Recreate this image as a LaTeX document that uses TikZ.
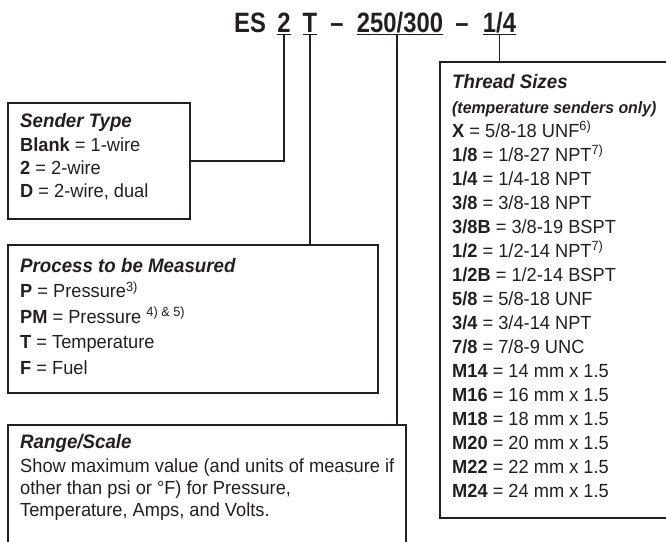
\documentclass[tikz,border=0pt]{standalone}
\usepackage{fontspec}
\setmainfont{Liberation Sans}
\newfontfamily\titlefont[FakeStretch=0.85]{Liberation Sans}
\newfontfamily\bodyfont[FakeStretch=0.96]{Liberation Sans}
\definecolor{ink}{RGB}{35,31,32}
\begin{document}
\begin{tikzpicture}[x=1pt,y=-1pt,
  titletxt/.style={font=\titlefont\bfseries\fontsize{28}{30}\selectfont, inner sep=0pt, outer sep=0pt, text depth=2.5pt, anchor=base, text=ink},
  box/.style={draw=ink, line width=1.8pt, inner sep=0pt, outer sep=0pt, anchor=north west},
  body/.style={font=\bodyfont\fontsize{19}{24}\selectfont, inner sep=0pt, anchor=base west, text=ink},
  head/.style={font=\bodyfont\bfseries\itshape\fontsize{19.5}{24}\selectfont, inner sep=0pt, anchor=base west, text=ink},
  subhead/.style={font=\bodyfont\bfseries\itshape\fontsize{16.5}{20}\selectfont, inner sep=0pt, anchor=base west, text=ink},
  conn/.style={draw=ink, line width=1.2pt},
  uline/.style={draw=ink, line width=1.2pt}]
\clip (0,0) rectangle (666,541);
% title
\node[titletxt] (tES) at (250,32) {ES};
\node[titletxt] (t2) at (284,32) {2};
\node[titletxt] (tT) at (310,32) {T};
\node[titletxt] (td1) at (337,32) {–};
\node[titletxt] (t250) at (400,32) {250/300};
\node[titletxt] (td2) at (462,32) {–};
\node[titletxt] (t14) at (499.5,32) {1/4};
\foreach \n in {t2,tT,t250,t14} \draw[uline] (\n.south west) -- (\n.south east);
% boxes
\node[box, minimum width=182pt, minimum height=116pt] (sender) at (8,103) {};
\node[box, minimum width=370pt, minimum height=148pt] (process) at (8,245) {};
\node[box, minimum width=398pt, minimum height=140pt] (range) at (8,425) {};
\node[box, minimum width=227pt, minimum height=456pt] (thread) at (440,62) {};
% connectors
\draw[conn] (t2.south) |- (sender.east);
\draw[conn] (tT.south) -- (tT.south |- process.north);
\draw[conn] ([xshift=-3pt]t250.south) -- ([xshift=-3pt]t250.south |- range.north);
\draw[conn] (t14.south) -- (t14.south |- thread.north);
% sender type
\node[head] (sh) at (20,127) {Sender Type};
\node[body] (s1) at (20,151) {\textbf{Blank} = 1-wire};
\node[body] (s2) at (20,174) {\textbf{2} = 2-wire};
\node[body] (s3) at (20,197) {\textbf{D} = 2-wire, dual};
% process
\node[head] (ph) at (20,272) {Process to be Measured};
\node[body] (p1) at (20,297.5) {\textbf{P} = Pressure\textsuperscript{3)}};
\node[body] (p2) at (20,323) {\textbf{PM} = Pressure \textsuperscript{4) \& 5)}};
\node[body] (p3) at (20,348.5) {\textbf{T} = Temperature};
\node[body] (p4) at (20,374) {\textbf{F} = Fuel};
% range
\node[head] (rh) at (20,448) {Range/Scale};
\node[body] (r1) at (20,472) {Show maximum value (and units of measure if};
\node[body] (r2) at (20,494) {other than psi or °F) for Pressure,};
\node[body] (r3) at (20,516) {Temperature, Amps, and Volts.};
% thread
\node[head] (th) at (452,88) {Thread Sizes};
\node[subhead] (ts) at (452,113) {(temperature senders only)};
\foreach \t [count=\i] in {
  {\textbf{X} = 5/8-18 UNF\textsuperscript{6)}},
  {\textbf{1/8} = 1/8-27 NPT\textsuperscript{7)}},
  {\textbf{1/4} = 1/4-18 NPT},
  {\textbf{3/8} = 3/8-18 NPT},
  {\textbf{3/8B} = 3/8-19 BSPT},
  {\textbf{1/2} = 1/2-14 NPT\textsuperscript{7)}},
  {\textbf{1/2B} = 1/2-14 BSPT},
  {\textbf{5/8} = 5/8-18 UNF},
  {\textbf{3/4} = 3/4-14 NPT},
  {\textbf{7/8} = 7/8-9 UNC},
  {\textbf{M14} = 14 mm x 1.5},
  {\textbf{M16} = 16 mm x 1.5},
  {\textbf{M18} = 18 mm x 1.5},
  {\textbf{M20} = 20 mm x 1.5},
  {\textbf{M22} = 22 mm x 1.5},
  {\textbf{M24} = 24 mm x 1.5}}
  \node[body] (tr\i) at (452,{137+24*(\i-1)}) {\t};
\end{tikzpicture}
\end{document}
